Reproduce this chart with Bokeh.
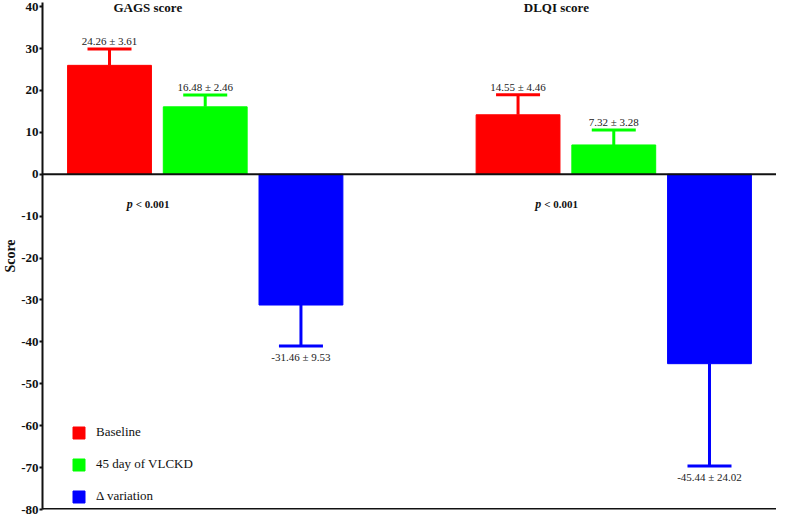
from bokeh.plotting import figure
from bokeh.models import ColumnDataSource, FactorRange, Range1d, Whisker, TeeHead, Span, FixedTicker
from bokeh.transform import dodge
from bokeh.core.properties import value
from bokeh.embed import file_html
from bokeh.resources import INLINE

# ---- data ----
groups = ["GAGS score", "DLQI score"]
series = ["Baseline", "45 day of VLCKD", "Δ variation"]
colors = ["#FF0000", "#00FF00", "#0000FF"]

baseline = [26.0, 14.2]
baseline_end = [29.9, 19.0]
vlckd = [16.1, 7.0]
vlckd_end = [18.9, 10.6]
delta = [-31.2, -45.2]
delta_end = [-41.0, -69.6]

baseline_lbl = ["24.26 ± 3.61", "14.55 ± 4.46"]
vlckd_lbl = ["16.48 ± 2.46", "7.32 ± 3.28"]
delta_lbl = ["-31.46 ± 9.53", "-45.44 ± 24.02"]
p_values = ["< 0.001", "< 0.001"]
y_ticks = [-80, -70, -60, -50, -40, -30, -20, -10, 0, 10, 20, 30, 40]
y_tick_labels = ["-80", "-70", "-60", "-50", "-40", "-30", "-20", "-10", "0", "10", "20", "30", "40"]

SERIF = value("Liberation Serif")

factors = [(g, s) for g in groups for s in series]
x_range = FactorRange(*factors, factor_padding=0, group_padding=1.268,
                      range_padding=0.2, range_padding_units="absolute")

p = figure(width=776, height=517, x_range=x_range, y_range=Range1d(-80, 41.0),
           output_backend="svg", toolbar_location=None,
           min_border_left=0, min_border_right=0, min_border_top=2, min_border_bottom=8)
p.grid.visible = False
p.outline_line_color = None
p.background_fill_color = "white"

all_vals = [baseline, vlckd, delta]
all_ends = [baseline_end, vlckd_end, delta_end]
all_lbls = [baseline_lbl, vlckd_lbl, delta_lbl]

for s, c, vals, ends, lbls in zip(series, colors, all_vals, all_ends, all_lbls):
    src = ColumnDataSource(dict(x=[(g, s) for g in groups], top=vals, end=ends, lbl=lbls))
    p.vbar(x="x", top="top", bottom=0, width=0.876, source=src,
           fill_color=c, line_color=c, line_width=1, legend_label=s)
    negative = vals[0] < 0
    if negative:
        w = Whisker(source=src, base="x", upper="top", lower="end", dimension="height",
                    upper_head=None,
                    lower_head=TeeHead(size=44, line_color=c, line_width=3),
                    line_color=c, line_width=3)
    else:
        w = Whisker(source=src, base="x", upper="end", lower="top", dimension="height",
                    lower_head=None,
                    upper_head=TeeHead(size=44, line_color=c, line_width=3),
                    line_color=c, line_width=3)
    p.add_layout(w)
    p.text(x="x", y="end", text="lbl", source=src, text_font=SERIF,
           text_font_size="11px", text_color="#222222", text_align="center",
           text_baseline="top" if negative else "bottom",
           y_offset=5 if negative else -2)

# group titles and p-values
tsrc = ColumnDataSource(dict(x=[(g, series[1]) for g in groups], t=groups, pv=p_values))
p.text(x=dodge("x", -0.6, range=p.x_range), y=y_ticks[-1], text="t", source=tsrc,
       text_font=SERIF, text_font_size="13px", text_font_style="bold",
       text_align="center", text_baseline="middle", y_offset=1, text_color="#111111")
p.text(x=dodge("x", -0.6, range=p.x_range), y=-7, text=value("p"), source=tsrc,
       text_font=SERIF, text_font_size="12px", text_font_style="bold italic",
       text_align="right", text_baseline="middle", x_offset=-15, text_color="#111111")
p.text(x=dodge("x", -0.6, range=p.x_range), y=-7, text="pv", source=tsrc,
       text_font=SERIF, text_font_size="11px", text_font_style="bold",
       text_align="left", text_baseline="middle", x_offset=-12, text_color="#111111")

# zero line and bottom line
p.add_layout(Span(location=0, dimension="width", line_color="#111111", line_width=2))
p.add_layout(Span(location=-80, dimension="width", line_color="#111111", line_width=3))

# axes
p.xaxis.visible = False
yax = p.yaxis[0]
yax.ticker = FixedTicker(ticks=y_ticks)
yax.major_label_overrides = dict(zip(y_ticks, y_tick_labels))
yax.minor_tick_line_color = None
yax.axis_line_width = 2
yax.axis_line_color = "#111111"
yax.major_tick_line_width = 2
yax.major_tick_line_color = "#111111"
yax.major_tick_in = 0
yax.major_tick_out = 3
yax.major_label_standoff = 1
yax.major_label_text_font = "Liberation Serif"
yax.major_label_text_font_style = "bold"
yax.major_label_text_font_size = "13px"
yax.major_label_text_color = "#111111"
yax.axis_label = "Score"
yax.axis_label_text_font = "Liberation Serif"
yax.axis_label_text_font_style = "bold"
yax.axis_label_text_font_size = "14px"
yax.axis_label_text_color = "#111111"
yax.axis_label_standoff = 0

# legend
lg = p.legend[0]
lg.location = (29, 5)
lg.padding = 0
lg.margin = 0
lg.border_line_color = None
lg.background_fill_alpha = 0
lg.glyph_width = 15
lg.glyph_height = 15
lg.label_height = 15
lg.spacing = 16
lg.label_standoff = 10
lg.label_text_font = "Liberation Serif"
lg.label_text_font_size = "13px"
lg.label_text_color = "#111111"

open("out.html", "w").write(file_html(p, INLINE))
